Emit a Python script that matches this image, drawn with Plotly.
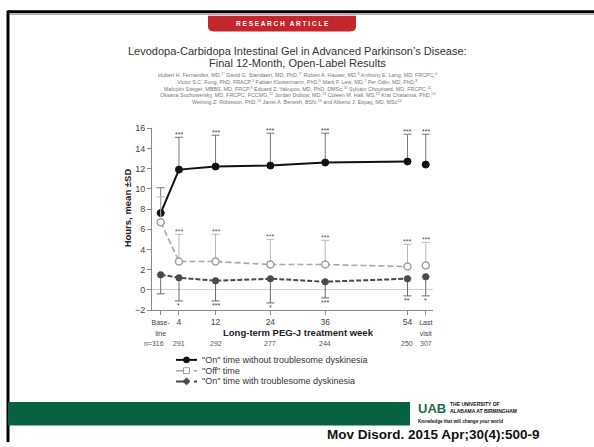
import plotly.graph_objects as go

# ---------------- data ----------------
weeks = [0, 4, 12, 24, 36, 54, 58]
tick_labels = ['<span style="font-size:7px">Base-</span><br><span style="font-size:7px">line</span>',
               "4", "12", "24", "36", "54",
               '<span style="font-size:7px">Last</span><br><span style="font-size:7px">visit</span>']
n_labels = ["n=316", "291", "292", "277", "244", "250", "307"]

on_without = [7.6, 11.9, 12.2, 12.3, 12.6, 12.7, 12.4]
on_without_sd = [2.5, 3.2, 3.1, 3.2, 2.9, 2.7, 3.0]
on_without_sig = ["", "***", "***", "***", "***", "***", "***"]

off_time = [6.7, 2.8, 2.8, 2.5, 2.5, 2.3, 2.4]
off_time_sd = [2.5, 2.7, 2.7, 2.5, 2.4, 2.2, 2.3]
off_time_sig = ["", "***", "***", "***", "***", "***", "***"]

on_with = [1.5, 1.2, 0.9, 1.1, 0.8, 1.1, 1.3]
on_with_sd = [1.9, 2.3, 2.0, 2.4, 1.6, 1.7, 1.9]
on_with_sig = ["", "*", "***", "*", "***", "**", "*"]

series_names = ['"On" time without troublesome dyskinesia',
                '"Off" time',
                '"On" time with troublesome dyskinesia']

W, H = 594, 447
FONT = "Arial, Liberation Sans, sans-serif"


def px(x):
    return x / W


def py(y):
    return 1 - y / H


fig = go.Figure()

zeros = [0] * len(weeks)

# ---- connecting lines (baseline to week 54; last visit not connected)
fig.add_trace(go.Scatter(x=weeks[:6], y=on_without[:6], mode="lines",
                         line=dict(color="#111111", width=2), showlegend=False, hoverinfo="skip"))
fig.add_trace(go.Scatter(x=weeks[:6], y=off_time[:6], mode="lines",
                         line=dict(color="#a8a8a8", width=1.6, dash="6px,3px"), showlegend=False, hoverinfo="skip"))
fig.add_trace(go.Scatter(x=weeks[:6], y=on_with[:6], mode="lines",
                         line=dict(color="#4a4a4a", width=2, dash="5px,2px"), showlegend=False, hoverinfo="skip"))

# ---- markers + error bars
fig.add_trace(go.Scatter(
    x=weeks, y=on_without, mode="markers", name=series_names[0], showlegend=False,
    marker=dict(color="#111111", size=7, line=dict(color="#111111", width=1)),
    error_y=dict(type="data", symmetric=False, array=on_without_sd, arrayminus=zeros,
                 color="#777777", thickness=1, width=4)))
fig.add_trace(go.Scatter(
    x=weeks, y=off_time, mode="markers", name=series_names[1], showlegend=False,
    marker=dict(color="white", size=7, line=dict(color="#a0a0a0", width=1.5)),
    error_y=dict(type="data", symmetric=False, array=off_time_sd, arrayminus=zeros,
                 color="#b8b8b8", thickness=1, width=4)))
fig.add_trace(go.Scatter(
    x=weeks, y=on_with, mode="markers", name=series_names[2], showlegend=False,
    marker=dict(color="#4a4a4a", size=7, symbol="circle"),
    error_y=dict(type="data", symmetric=False, array=zeros, arrayminus=on_with_sd,
                 color="#6a6a6a", thickness=1, width=4)))

annotations = []

# ---- significance asterisks
for w, v, sd, s in zip(weeks, on_without, on_without_sd, on_without_sig):
    if s:
        annotations.append(dict(x=w, y=v + sd, xref="x", yref="y", text=s, showarrow=False,
                                xanchor="center", yanchor="bottom", yshift=-3,
                                font=dict(size=7, color="#444", family=FONT)))
for w, v, sd, s in zip(weeks, off_time, off_time_sd, off_time_sig):
    if s:
        annotations.append(dict(x=w, y=v + sd, xref="x", yref="y", text=s, showarrow=False,
                                xanchor="center", yanchor="bottom", yshift=-3,
                                font=dict(size=7, color="#555", family=FONT)))
for w, v, sd, s in zip(weeks, on_with, on_with_sd, on_with_sig):
    if s:
        annotations.append(dict(x=w, y=v - sd, xref="x", yref="y", text=s, showarrow=False,
                                xanchor="center", yanchor="top", yshift=1,
                                font=dict(size=7, color="#444", family=FONT)))

# ---- n row
for w, n in zip(weeks, n_labels):
    annotations.append(dict(x=w, y=py(346), xref="x", yref="paper", text=n, showarrow=False,
                            xanchor="center", yanchor="middle",
                            xshift=-7 if n.startswith("n=") else 0,
                            font=dict(size=7, color="#555", family=FONT)))

# ---- axis titles
annotations.append(dict(x=px(298), y=py(335), xref="paper", yref="paper",
                        text="<b>Long-term PEG-J treatment week</b>", showarrow=False,
                        xanchor="center", yanchor="middle",
                        font=dict(size=9.5, color="#222", family=FONT)))
annotations.append(dict(x=px(127), y=py(208), xref="paper", yref="paper",
                        text="<b>Hours, mean ±SD</b>", textangle=-90, showarrow=False,
                        xanchor="center", yanchor="middle",
                        font=dict(size=9.5, color="#222", family=FONT)))

# ---- manual legend
shapes = []
leg_y = [363, 374, 385]
leg_line = [dict(color="#111111", width=2, dash="solid"),
            dict(color="#a8a8a8", width=1.5, dash="dash"),
            dict(color="#4a4a4a", width=2, dash="dash")]
for i, (yy, nm, ln) in enumerate(zip(leg_y, series_names, leg_line)):
    shapes.append(dict(type="line", xref="paper", yref="paper", x0=px(176), x1=px(197),
                       y0=py(yy), y1=py(yy), line=ln))
    cx, r = 186.5, 3
    if i == 0:
        shapes.append(dict(type="circle", xref="paper", yref="paper", x0=px(cx - r), x1=px(cx + r),
                           y0=py(yy + r), y1=py(yy - r), fillcolor="#111", line=dict(color="#111", width=1)))
    elif i == 1:
        shapes.append(dict(type="rect", xref="paper", yref="paper", x0=px(cx - r), x1=px(cx + r),
                           y0=py(yy + r), y1=py(yy - r), fillcolor="white", line=dict(color="#a0a0a0", width=1)))
    else:
        path = "M {a},{b} L {c},{d} L {e},{f} L {g},{h} Z".format(
            a=px(cx), b=py(yy - 3.5), c=px(cx + 3.5), d=py(yy), e=px(cx), f=py(yy + 3.5), g=px(cx - 3.5), h=py(yy))
        shapes.append(dict(type="path", xref="paper", yref="paper", path=path,
                           fillcolor="#4a4a4a", line=dict(color="#4a4a4a", width=1)))
    annotations.append(dict(x=px(200), y=py(yy), xref="paper", yref="paper", text=nm, showarrow=False,
                            xanchor="left", yanchor="middle", font=dict(size=9, color="#333", family=FONT)))

# ---- slide frame
shapes.append(dict(type="line", xref="paper", yref="paper", x0=px(8), x1=1, y0=py(7), y1=py(7),
                   line=dict(color="black", width=3)))
shapes.append(dict(type="line", xref="paper", yref="paper", x0=px(8), x1=1, y0=py(9.5), y1=py(9.5),
                   line=dict(color="#999", width=1)))
shapes.append(dict(type="line", xref="paper", yref="paper", x0=px(8), x1=px(8), y0=py(5.5), y1=0,
                   line=dict(color="black", width=3)))

# ---- header
shapes.append(dict(type="path", xref="paper", yref="paper",
                   path="M {x0},{y0} L {x1},{y0} L {x1},{y2} Q {x1},{y1} {x1m},{y1} L {x0p},{y1} Q {x0},{y1} {x0},{y2} Z".format(
                       x0=px(208), x1=px(356), x1m=px(350), x0p=px(214), y0=py(11), y1=py(27), y2=py(22)),
                   fillcolor="#c4262e", line=dict(width=0)))
annotations.append(dict(x=px(282), y=py(19), xref="paper", yref="paper",
                        text="<b>R E S E A R C H   A R T I C L E</b>", showarrow=False,
                        xanchor="center", yanchor="middle",
                        font=dict(size=6.5, color="white", family=FONT)))
annotations.append(dict(x=px(297), y=py(47), xref="paper", yref="paper",
                        text="Levodopa-Carbidopa Intestinal Gel in Advanced Parkinson’s Disease:",
                        xanchor="center", yanchor="middle",
                        showarrow=False, font=dict(size=11, color="#333", family=FONT)))
annotations.append(dict(x=px(297), y=py(59), xref="paper", yref="paper",
                        text="Final 12-Month, Open-Label Results",
                        xanchor="center", yanchor="middle",
                        showarrow=False, font=dict(size=11, color="#333", family=FONT)))
authors = [
    "Hubert H. Fernandez, MD,<sup>1*</sup> David G. Standaert, MD, PhD,<sup>2*</sup> Robert A. Hauser, MD,<sup>3</sup> Anthony E. Lang, MD, FRCPC,<sup>4</sup>",
    "Victor S.C. Fung, PhD, FRACP,<sup>5</sup> Fabian Klostermann, PhD,<sup>6</sup> Mark F. Lew, MD,<sup>7</sup> Per Odin, MD, PhD,<sup>8</sup>",
    "Malcolm Steiger, MBBS, MD, FRCP,<sup>9</sup> Eduard Z. Yakupov, MD, PhD, DMSc,<sup>10</sup> Sylvain Chouinard, MD, FRCPC,<sup>11</sup>",
    "Oksana Suchowersky, MD, FRCPC, FCCMG,<sup>12</sup> Jordan Dubow, MD,<sup>13</sup> Coleen M. Hall, MS,<sup>13</sup> Krai Chatamra, PhD,<sup>13</sup>",
    "Weining Z. Robieson, PhD,<sup>13</sup> Janet A. Benesh, BSN,<sup>13</sup> and Alberto J. Espay, MD, MSc<sup>14</sup>",
]
for i, a in enumerate(authors):
    annotations.append(dict(x=px(297), y=py(71.5 + i * 7), xref="paper", yref="paper", text=a,
                            xanchor="center", yanchor="middle",
                            showarrow=False, font=dict(size=5.4, color="#777", family=FONT)))

# ---- footer
shapes.append(dict(type="rect", xref="paper", yref="paper", x0=px(8), x1=px(410), y0=py(430), y1=py(406),
                   fillcolor="#066240", line=dict(width=0)))
annotations.append(dict(x=px(416), y=py(413), xref="paper", yref="paper", text="<b>UAB</b>",
                        xanchor="left", yanchor="middle", showarrow=False,
                        font=dict(size=13, color="#1d6b4a", family=FONT)))
annotations.append(dict(x=px(448), y=py(412), xref="paper", yref="paper",
                        text="<b>THE UNIVERSITY OF<br>ALABAMA AT BIRMINGHAM</b>",
                        xanchor="left", yanchor="middle", showarrow=False, align="left",
                        font=dict(size=5, color="#111", family=FONT)))
annotations.append(dict(x=px(416), y=py(426), xref="paper", yref="paper",
                        text="<b>Knowledge that will change your world</b>",
                        xanchor="left", yanchor="middle", showarrow=False,
                        font=dict(size=4.6, color="#111", family=FONT)))
annotations.append(dict(x=px(542), y=py(439), xref="paper", yref="paper",
                        text="<b>Mov Disord. 2015 Apr;30(4):500-9</b>",
                        xanchor="right", yanchor="middle", showarrow=False,
                        font=dict(size=13.5, color="#111", family=FONT)))

# ---- axes geometry
x_left_px, x_right_px = 152, 433
base_px, px_per_week = 160.7, 4.57
x_range = [(x_left_px - base_px) / px_per_week, (x_right_px - base_px) / px_per_week]

fig.update_layout(
    width=W, height=H,
    margin=dict(l=0, r=0, t=0, b=0),
    paper_bgcolor="white", plot_bgcolor="white",
    showlegend=False,
    font=dict(family=FONT),
    xaxis=dict(domain=[px(x_left_px), px(x_right_px)], range=x_range,
               tickmode="array", tickvals=weeks, ticktext=tick_labels,
               showline=True, linecolor="#888", linewidth=1,
               ticks="outside", ticklen=4, tickcolor="#888",
               showgrid=False, zeroline=False,
               tickfont=dict(size=8.5, color="#444", family=FONT)),
    yaxis=dict(domain=[py(312), py(126)], range=[-2, 16],
               tickmode="linear", tick0=-2, dtick=2,
               showline=True, linecolor="#888", linewidth=1,
               ticks="outside", ticklen=4, tickcolor="#888",
               showgrid=False, zeroline=True, zerolinecolor="#d0d0d0", zerolinewidth=1,
               tickfont=dict(size=9, color="#444", family=FONT)),
    annotations=annotations,
    shapes=shapes,
)

fig.write_html("out.html",
               config={"displayModeBar": False},
               post_script="document.body.style.margin='0px';document.body.style.overflow='hidden';")
